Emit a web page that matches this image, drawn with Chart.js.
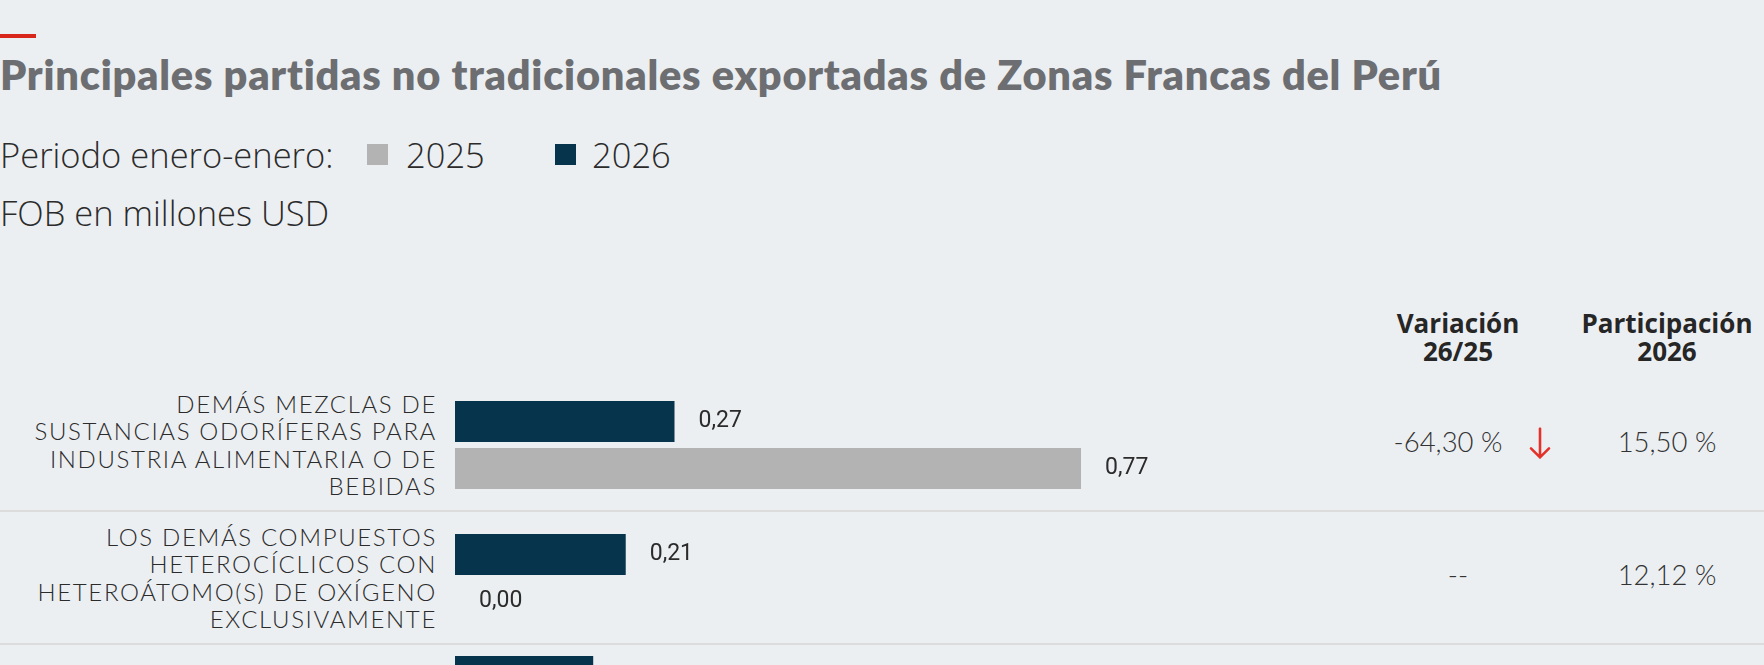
<!DOCTYPE html>
<html lang="es">
<head>
<meta charset="utf-8">
<title>Zonas Francas del Perú</title>
<script src="https://cdn.jsdelivr.net/npm/chart.js@4.4.1/dist/chart.umd.min.js"></script>
<style>
  html, body { margin: 0; padding: 0; background: #eceff2; }
  body { width: 1764px; height: 665px; overflow: hidden; position: relative; font-family: Lato, sans-serif; color: #2b2b2b; }
  .accent { position: absolute; left: 0; top: 33.5px; width: 36px; height: 4px; background: #d9261c; }
  h1 { position: absolute; left: 0; top: 54px; margin: 0; font: 800 41.5px/1 Lato, sans-serif; letter-spacing: 0.75px; color: #6d6e71; white-space: nowrap; }
  .sub { position: absolute; left: 0; font: 300 34.5px/1 "Open Sans", sans-serif; color: #2b2b2b; white-space: nowrap; }
  .sw { position: absolute; top: 144px; width: 21px; height: 21px; }
  .head { position: absolute; width: 180px; text-align: center; font: 700 26px/27.7px "Open Sans", sans-serif; color: #262626; white-space: nowrap; }
  #table { position: absolute; left: 0; top: 379px; width: 1764px; }
  .row { position: relative; display: flex; align-items: center; padding: 10.5px 0; border-bottom: 2px solid #dcdcdc; }
  .label { width: 437px; margin-right: 16.5px; text-align: right; font: 300 24px/27.5px Lato, sans-serif; letter-spacing: 1.65px; color: #2b2b2b; }
  .plot { position: relative; width: 813px; height: 88px; margin-left: 1.5px; }
  .plot canvas { position: absolute; left: 0; top: -3px; }
  .cell { position: absolute; top: 0; bottom: 0; display: flex; align-items: center; justify-content: center; font: 300 27.5px Lato, sans-serif; color: #333; white-space: nowrap; }
  .cell span { position: relative; top: -3px; }
  .var { left: 1358px; width: 200px; }
  .part { left: 1577px; width: 180px; }
  .var .num.with-arrow { margin-right: 20px; }
  .var svg { position: absolute; left: 171px; top: 50%; transform: translateY(-55%); }
</style>
</head>
<body>
<div class="accent"></div>
<h1>Principales partidas no tradicionales exportadas de Zonas Francas del Perú</h1>
<div class="sub" style="top:137.7px">Periodo enero-enero:</div>
<div class="sw" style="left:367px;background:#b3b3b3"></div>
<div class="sub" style="top:137.7px;left:406px">2025</div>
<div class="sw" style="left:555px;background:#07344d"></div>
<div class="sub" style="top:137.7px;left:592px">2026</div>
<div class="sub" style="top:196.4px">FOB en millones USD</div>
<div class="head" style="left:1368px;top:310px">Variación</div>
<div class="head" style="left:1368px;top:337.7px">26/25</div>
<div class="head" style="left:1577px;top:310px">Participación</div>
<div class="head" style="left:1577px;top:337.7px">2026</div>
<div id="table"></div>

<script>
// Partidas (una línea por elemento)
const categories = [
  ['DEMÁS MEZCLAS DE', 'SUSTANCIAS ODORÍFERAS PARA', 'INDUSTRIA ALIMENTARIA O DE', 'BEBIDAS'],
  ['LOS DEMÁS COMPUESTOS', 'HETEROCÍCLICOS CON', 'HETEROÁTOMO(S) DE OXÍGENO', 'EXCLUSIVAMENTE'],
  []
];
// FOB en millones USD, periodo enero-enero
const values2026 = [0.27, 0.21, 0.17];
const values2025 = [0.77, 0.00, null];
// Variación 26/25 (%) y participación 2026 (%)
const variation = [-64.30, null, null];
const share2026 = [15.50, 12.12, null];

const COLOR_2026 = '#07344d';
const COLOR_2025 = '#b3b3b3';
const SCALE_MAX = 1;

const fmt = (v, d) => v.toFixed(d).replace('.', ',');

// Etiqueta de valor al final de cada barra
const valueLabels = {
  id: 'valueLabels',
  afterDatasetsDraw(chart) {
    const ctx = chart.ctx;
    ctx.save();
    ctx.font = '400 23px Roboto, sans-serif';
    ctx.fillStyle = '#2b2b2b';
    ctx.textAlign = 'left';
    ctx.textBaseline = 'middle';
    chart.data.datasets.forEach((ds, di) => {
      const meta = chart.getDatasetMeta(di);
      meta.data.forEach((bar, i) => {
        const v = ds.data[i];
        if (v === null || v === undefined) return;
        ctx.fillText(fmt(v, 2), bar.x + 24, bar.y);
      });
    });
    ctx.restore();
  }
};

const table = document.getElementById('table');

categories.forEach((lines, i) => {
  const row = document.createElement('div');
  row.className = 'row';

  const label = document.createElement('div');
  label.className = 'label';
  label.innerHTML = lines.join('<br>');
  row.appendChild(label);

  const plot = document.createElement('div');
  plot.className = 'plot';
  const canvas = document.createElement('canvas');
  canvas.width = 813;
  canvas.height = 94;
  canvas.style.width = '813px';
  canvas.style.height = '94px';
  plot.appendChild(canvas);
  row.appendChild(plot);

  // Columnas de variación y participación (solo si hay dato de participación)
  if (share2026[i] !== null) {
    const varCell = document.createElement('div');
    varCell.className = 'cell var';
    const num = document.createElement('span');
    num.className = 'num';
    num.textContent = variation[i] === null ? '--' : fmt(variation[i], 2) + ' %';
    varCell.appendChild(num);
    if (variation[i] !== null && variation[i] < 0) {
      num.classList.add('with-arrow');
      varCell.insertAdjacentHTML('beforeend',
        '<svg width="22" height="32" viewBox="0 0 22 32"><path d="M11 1 V30 M2 21 L11 30 L20 21" fill="none" stroke="#e4322b" stroke-width="2.6" stroke-linecap="round" stroke-linejoin="round"/></svg>');
    }
    row.appendChild(varCell);

    const partCell = document.createElement('div');
    partCell.className = 'cell part';
    const pct = document.createElement('span');
    pct.textContent = fmt(share2026[i], 2) + ' %';
    partCell.appendChild(pct);
    row.appendChild(partCell);
  }

  table.appendChild(row);

  new Chart(canvas, {
    type: 'bar',
    data: {
      labels: [lines.join(' ')],
      datasets: [
        { label: '2026', data: [values2026[i]], backgroundColor: COLOR_2026, barPercentage: 41 / 47, categoryPercentage: 1 },
        { label: '2025', data: [values2025[i]], backgroundColor: COLOR_2025, barPercentage: 41 / 47, categoryPercentage: 1 }
      ]
    },
    options: {
      indexAxis: 'y',
      responsive: false,
      animation: false,
      layout: { padding: 0 },
      scales: {
        x: { display: false, min: 0, max: SCALE_MAX },
        y: { display: false }
      },
      plugins: { legend: { display: false }, tooltip: { enabled: false } }
    },
    plugins: [valueLabels]
  });
});
</script>
</body>
</html>
